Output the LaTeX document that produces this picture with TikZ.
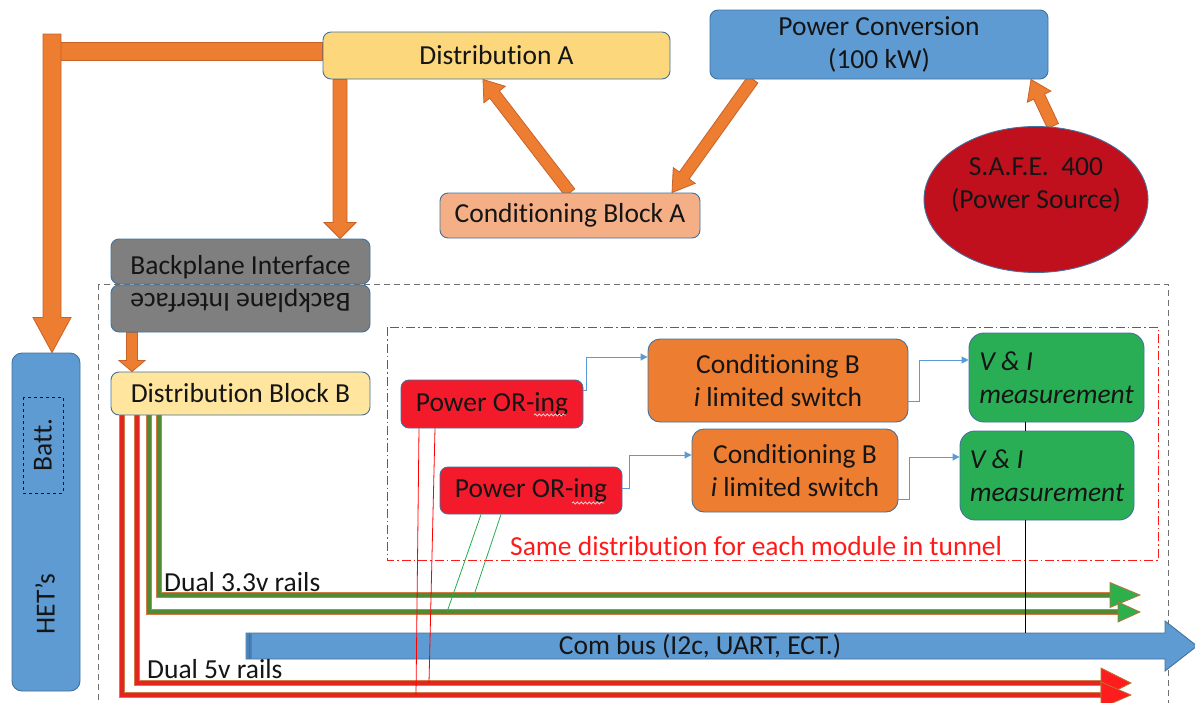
\documentclass[tikz,border=0pt]{standalone}
\usepackage{fontspec}
\setmainfont{Carlito}[Ligatures=NoCommon]
\usetikzlibrary{arrows.meta,calc,shapes.geometric,decorations.pathmorphing}
\pgfdeclarelayer{back}
\pgfsetlayers{back,main}

\definecolor{edge}{HTML}{41719C}
\definecolor{orgfill}{HTML}{ED7D31}
\definecolor{orgline}{HTML}{C8622A}
\definecolor{yellowA}{HTML}{FDD77C}
\definecolor{yellowB}{HTML}{FFE59E}
\definecolor{bluebox}{HTML}{5F9BD3}
\definecolor{safered}{HTML}{C0101E}
\definecolor{salmon}{HTML}{F4AF86}
\definecolor{graybox}{HTML}{7F7F7F}
\definecolor{orred}{HTML}{F31B2B}
\definecolor{vigreen}{HTML}{2AAE55}
\definecolor{railgreen}{HTML}{4F8A34}
\definecolor{railred}{HTML}{E3261F}
\definecolor{railedge}{HTML}{D27B45}
\definecolor{headgreen}{HTML}{2DB04C}
\definecolor{headred}{HTML}{FF1C1C}
\definecolor{headedge}{HTML}{B8743C}
\definecolor{ink}{HTML}{151515}
\definecolor{linkblue}{HTML}{5B9BD5}
\definecolor{tunnelred}{HTML}{FF1A1A}
\definecolor{tapgreen}{HTML}{1DB04E}
\definecolor{dashgray}{HTML}{707070}
\definecolor{busdark}{HTML}{4A82B8}
\definecolor{spellmark}{HTML}{FFC4C4}

\newcommand\lbl{\fontsize{27.5}{33}\selectfont}
% text whose baseline sits #1 below the node centre
\newcommand\lowered[2]{\raisebox{-#1}[0pt][0pt]{#2}}

% block arrow from #2 to #3: shaft half width #4, head half width #5, head length #6 (pt)
\newcommand\fatarrow[6][fatarr]{%
  \filldraw[#1] let \p1=(#2), \p2=(#3),
    \n1={veclen(\x2-\x1,\y2-\y1)}, \n2={atan2(\y2-\y1,\x2-\x1)} in
    [shift={(\p1)}, rotate=\n2]
    (0pt,-#4pt) -- (\n1-#6pt,-#4pt) -- (\n1-#6pt,-#5pt) -- (\n1+0pt,0pt)
    -- (\n1-#6pt,#5pt) -- (\n1-#6pt,#4pt) -- (0pt,#4pt) -- cycle;}

\tikzset{
  box/.style={draw=edge, line width=0.9pt, rounded corners=8pt, inner sep=0pt,
    align=center, font=\lbl, text=ink},
  fatarr/.style={fill=orgfill, draw=orgline, line width=0.8pt, line join=miter},
  busarr/.style={fill=bluebox, draw=edge, line width=0.9pt, line join=miter},
  railG/.style={draw=railedge, double=railgreen, double distance=4pt, line width=1pt},
  railR/.style={draw=railedge, double=railred, double distance=4pt, line width=1pt},
  headG/.style={fill=headgreen, draw=headedge, line width=0.8pt},
  headR/.style={fill=headred, draw=headedge, line width=0.8pt},
  link/.style={draw=linkblue, line width=1pt, -{Triangle[length=7pt,width=7pt]}},
  squiggle/.style={draw=spellmark, line width=0.8pt, decorate,
    decoration={snake, amplitude=1pt, segment length=4pt}},
}

\begin{document}
\begin{tikzpicture}[x=1pt, y=-1pt]
\useasboundingbox (0,0) rectangle (1195,702);

% ---------- blocks ----------
\node[box, fill=yellowA, minimum width=347pt, minimum height=47pt] (distA) at (496.5,55.5) {\lowered{9pt}{Distribution A}};
\node[box, fill=bluebox, minimum width=338pt, minimum height=69pt] (pconv) at (879,44.5) {Power Conversion\\(100 kW)};
\node[ellipse, draw=edge, line width=0.9pt, fill=safered, minimum width=224pt, minimum height=146pt, inner sep=0pt] (safe) at (1036,199.5) {};
\node[font=\lbl, text=ink, align=center] (safetxt) at (1036,185) {S.A.F.E.\ \ 400\\(Power Source)};
\node[box, fill=salmon, minimum width=260pt, minimum height=45pt] (condA) at (570,215.5) {Conditioning Block A};
\node[box, fill=graybox, minimum width=259pt, minimum height=45pt] (bp1) at (240.5,261.5) {\lowered{13pt}{Backplane Interface}};
\node[box, fill=graybox, minimum width=259pt, minimum height=47pt, rotate=180] (bp2) at (240.5,308.5) {\lowered{15pt}{Backplane Interface}};
\node[box, fill=yellowB, minimum width=259pt, minimum height=43pt] (distB) at (240.5,393.5) {Distribution Block B};
\node[box, fill=orred, minimum width=182pt, minimum height=48pt] (or1) at (492,404) {Power OR-ing};
\node[box, fill=orred, minimum width=182pt, minimum height=47pt] (or2) at (531,490.5) {Power OR-ing};
\node[box, fill=orgfill, rounded corners=12pt, minimum width=260pt, minimum height=83pt] (cb1) at (778,380.5) {Conditioning B\\\textit{i} limited switch};
\node[box, fill=orgfill, rounded corners=12pt, minimum width=206pt, minimum height=83pt] (cb2) at (795,470.5) {Conditioning B\\\textit{i} limited switch};
\node[box, fill=vigreen, rounded corners=15pt, minimum width=175pt, minimum height=89pt, align=left, font=\lbl\itshape] (vi1) at (1056.5,377.5) {V \& I\\measurement};
\node[box, fill=vigreen, rounded corners=15pt, minimum width=174pt, minimum height=89pt, align=left, font=\lbl\itshape] (vi2) at (1047,475.5) {V \& I\\measurement};
\node[box, fill=bluebox, rounded corners=10pt, minimum width=68pt, minimum height=338pt] (hets) at (46,522) {};
\node[font=\lbl, text=ink, rotate=90] (hetlbl) at (45,604) {HET’s};
\node[draw=ink, dashed, line width=0.7pt, rotate=90, minimum width=96pt, minimum height=40pt, inner sep=0pt, font=\lbl, text=ink] (batt) at (43,445) {Batt.};

% spell-check marks under "ing"
\draw[squiggle] ([xshift=42pt,yshift=-11pt]or1.center) -- ++(32,0);
\draw[squiggle] ([xshift=41pt,yshift=-12.5pt]or2.center) -- ++(32,0);

% ---------- named points ----------
\coordinate (cHet) at (52,34);
\coordinate (cDA) at (340,0);
\coordinate (cBP) at (132,0);
\coordinate (g1x) at (159,0);
\coordinate (g2x) at (149,0);
\coordinate (r1x) at (137,0);
\coordinate (r2x) at (122,0);
\coordinate (g1tip) at (1140,595);
\coordinate (g2tip) at (1140,612);
\coordinate (r1tip) at (1131,683);
\coordinate (r2tip) at (1131,695);
\coordinate (busTail) at (246,646);
\coordinate (busTip) at (1197,646);
\coordinate (busTop) at (1025,633);
\coordinate (r2tap) at (416,695);
\coordinate (r1tap) at (429,683);
\coordinate (g2tap) at (447,612);
\coordinate (g1tap) at (474,595);

\begin{pgfonlayer}{back}
  % module enclosure and tunnel region
  \draw[dashgray, line width=0.8pt, dash pattern=on 6pt off 4pt] (98,284) rectangle (1168,730);
  \draw[tunnelred, line width=0.8pt, dash pattern=on 9pt off 3pt on 1.5pt off 3pt] (387,327) rectangle (1158,560);

  % power feed arrows
  \filldraw[fatarr] (52,42) rectangle ([yshift=-4.5pt]distA.west);
  \fatarrow{cHet}{cHet |- hets.north}{9}{19}{35}
  \fatarrow{cDA |- distA.south}{cDA |- bp1.north}{7}{16}{16}
  \fatarrow{cBP |- bp2.north}{cBP |- distB.north}{5.5}{13}{11}
  \fatarrow{[xshift=-126pt]pconv.south}{[xshift=102pt]condA.north}{6}{13.5}{21}
  \fatarrow{condA.north}{[xshift=-13.5pt]distA.south}{6}{13.5}{19}
  \fatarrow{[xshift=17pt]safe.north}{[xshift=152pt]pconv.south}{6}{13}{19}

  % supply rails
  \draw[railG] (g1x |- distB.south) |- ([xshift=-28pt]g1tip);
  \draw[railG] (g2x |- distB.south) |- ([xshift=-20pt]g2tip);
  \draw[railR] (r1x |- distB.south) |- ([xshift=-28pt]r1tip);
  \draw[railR] (r2x |- distB.south) |- ([xshift=-28pt]r2tip);

  % communication bus
  \fatarrow[busarr]{busTail}{busTip}{13}{25}{32}
  \fill[busdark] (246.5,633.5) rectangle (252,658.5);
  \draw[edge, line width=0.6pt] (249,633) -- (249,659);
\end{pgfonlayer}

\node[font=\lbl, text=ink] (combus) at (700,646) {Com bus (I2c, UART, ECT.)};

% rail arrow heads
\filldraw[headG] ([xshift=-30pt,yshift=12.5pt]g1tip) -- (g1tip) -- ([xshift=-30pt,yshift=-12.5pt]g1tip) -- cycle;
\filldraw[headG] ([xshift=-22pt,yshift=10pt]g2tip) -- (g2tip) -- ([xshift=-22pt,yshift=-10pt]g2tip) -- cycle;
\filldraw[headR] ([xshift=-30pt,yshift=15pt]r1tip) -- (r1tip) -- ([xshift=-30pt,yshift=-15pt]r1tip) -- cycle;
\filldraw[headR] ([xshift=-30pt,yshift=13pt]r2tip) -- (r2tip) -- ([xshift=-30pt,yshift=-13pt]r2tip) -- cycle;

% rail labels
\node[font=\lbl, text=ink, anchor=base west, inner sep=0pt] (l33) at (164,591) {Dual 3.3v rails};
\node[font=\lbl, text=ink, anchor=base west, inner sep=0pt] (l5) at (147,678) {Dual 5v rails};
\node[font=\lbl, text=tunnelred, anchor=base west, inner sep=0pt] (tunnel) at (510,555) {Same distribution for each module in tunnel};

% taps from the OR-ing stages to the rails
\draw[red, line width=0.8pt] ([xshift=-73pt]or1.south) -- (r2tap);
\draw[red, line width=0.8pt] ([xshift=-57pt]or1.south) -- (r1tap);
\draw[tapgreen, line width=0.8pt] ([xshift=-50pt]or2.south) -- (g2tap);
\draw[tapgreen, line width=0.8pt] ([xshift=-30pt]or2.south) -- (g1tap);

% signal links
\draw[link] ([yshift=14pt]or1.east) -- ++(3,0) |- ([yshift=23.5pt]cb1.west);
\draw[link] ([yshift=2.5pt]or2.east) -- ++(7,0) |- ([yshift=15.5pt]cb2.west);
\draw[link] ([yshift=-20.5pt]cb1.east) -- ++(11,0) |- ([yshift=17.5pt]vi1.west);
\draw[link] ([yshift=-28.5pt]cb2.east) -- ++(11,0) |- ([yshift=18.5pt]vi2.west);

% measurement chain to the bus
\coordinate (bx) at (1025,0);
\draw[black, line width=0.8pt] (vi1.south -| bx) -- (vi2.north -| bx);
\draw[black, line width=0.8pt] (vi2.south -| bx) -- (busTop);
\end{tikzpicture}
\end{document}
